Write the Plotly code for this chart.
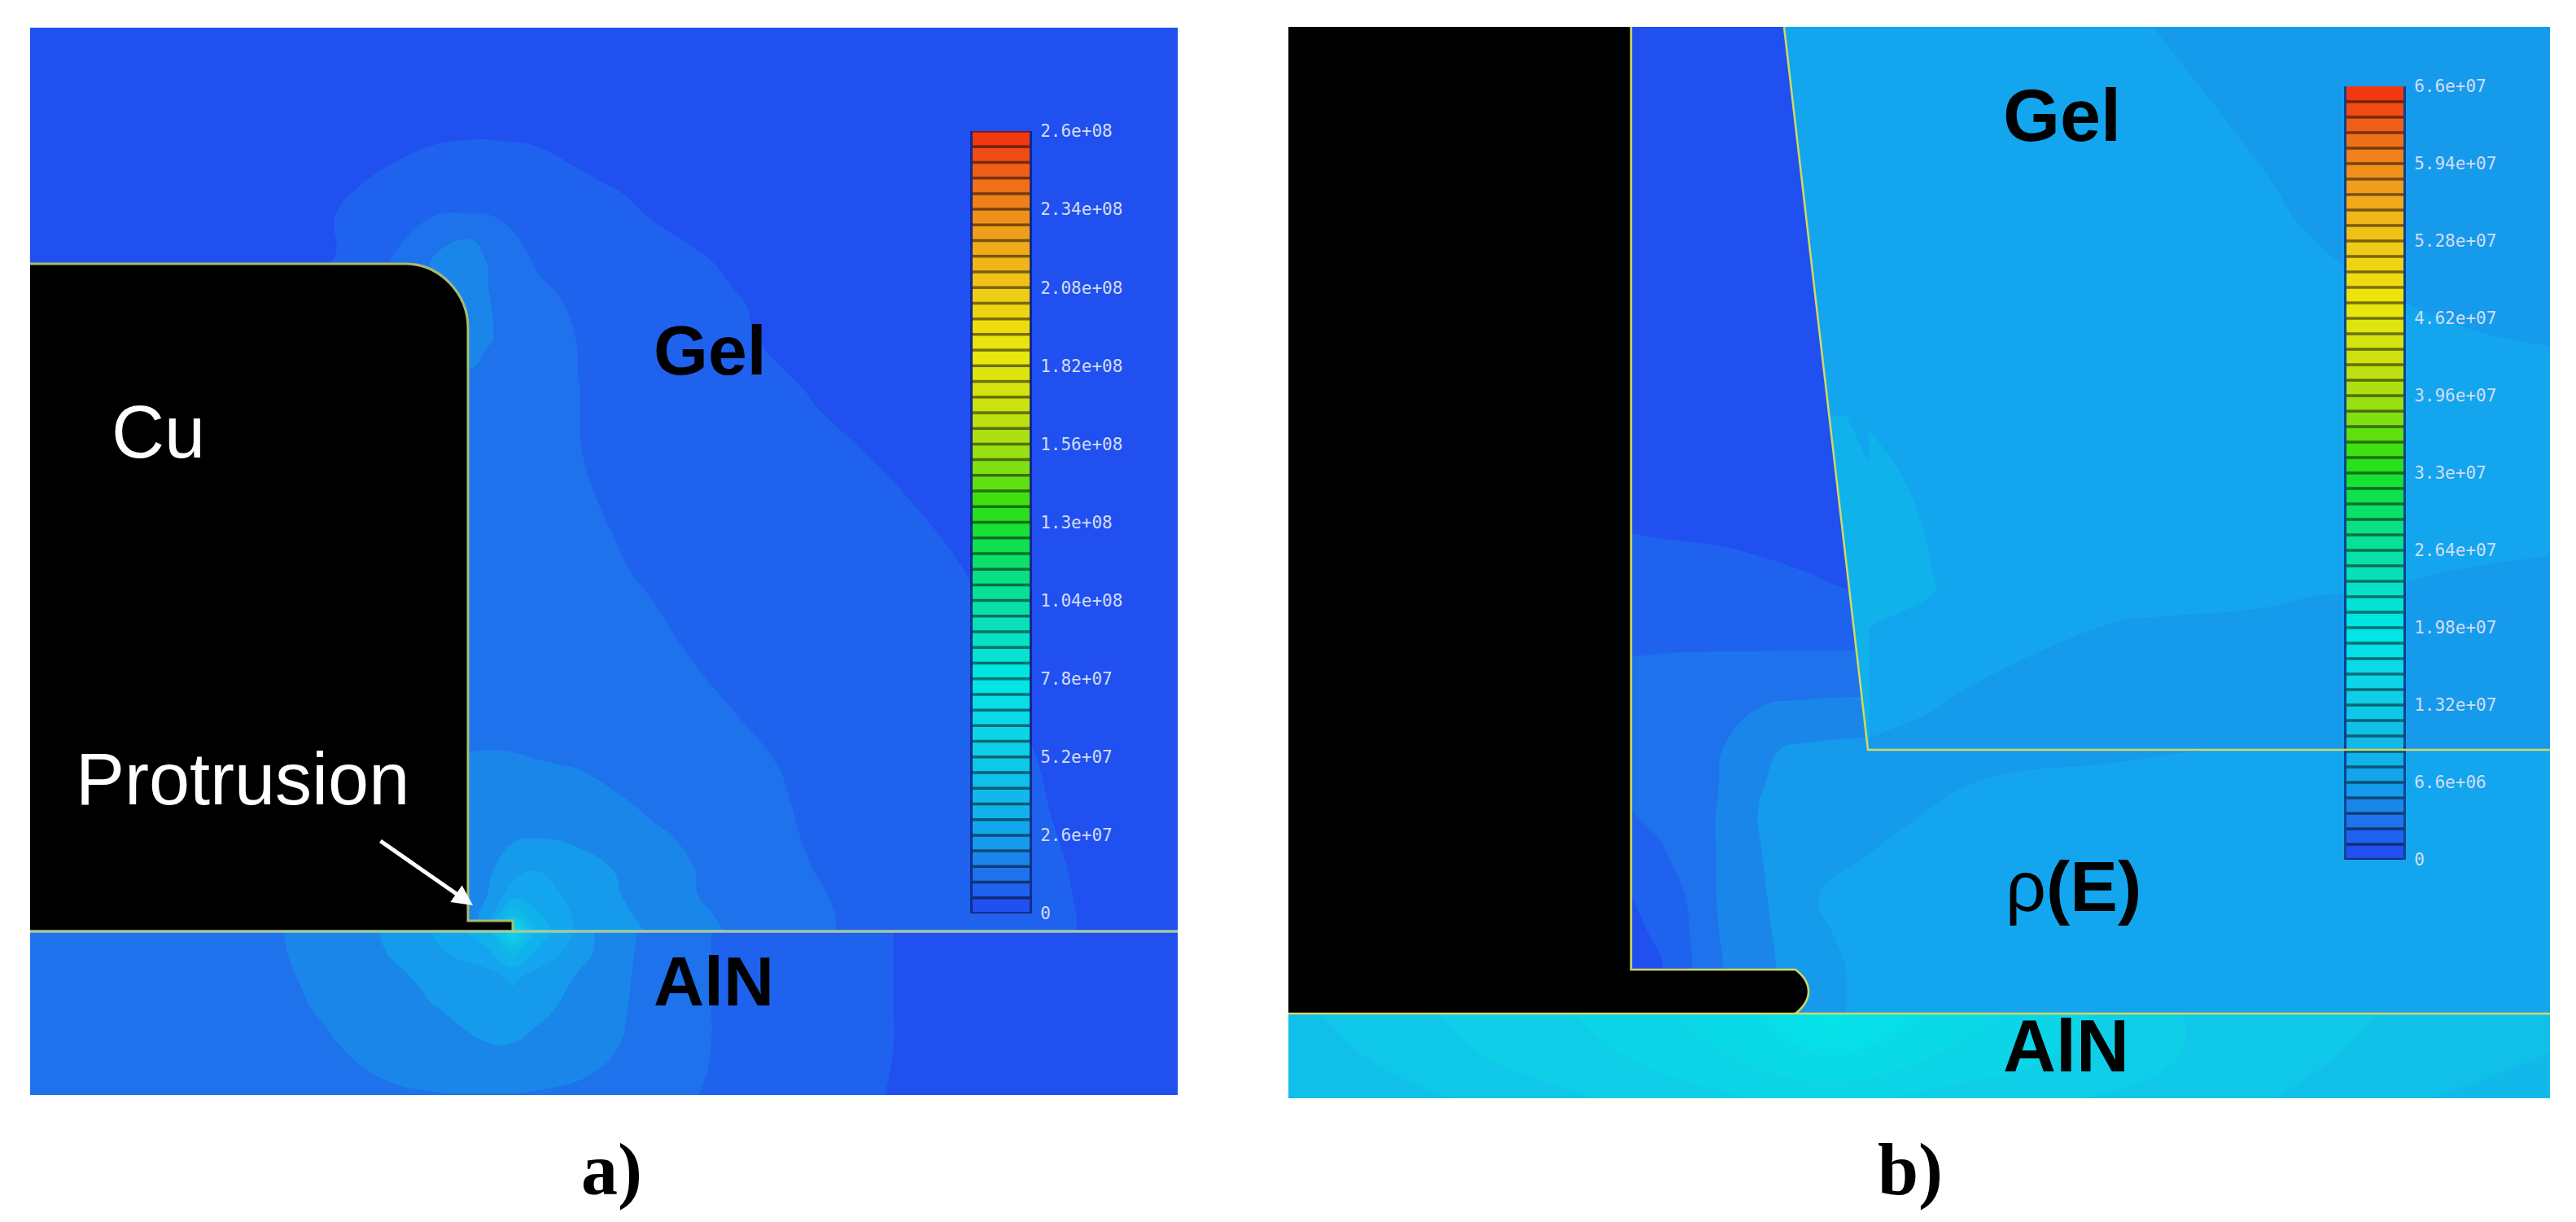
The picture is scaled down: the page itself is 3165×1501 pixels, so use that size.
import plotly.graph_objects as go

W, H = 3165, 1501

# field values, in units of 1e6
a_max, a_step = 260, 5.2
b_max, b_step = 66, 1.32

a_gel_x = [37, 300, 408, 445, 480, 530, 577, 600, 630, 660, 710, 760, 800, 850, 900, 1000, 1100, 1200, 1300, 1447]
a_gel_y = [34, 130, 173, 226, 262, 321, 370, 420, 480, 560, 704, 880, 940, 990, 1030, 1070, 1100, 1125, 1143]
a_gel_z = [
    [2, 2, 2, 2, 2, 2, 2, 2, 2, 2, 2, 2, 2, 2, 2, 2, 2, 2, 2, 2],
    [2, 2, 2.5, 3, 3.4, 3.8, 4, 4, 3.9, 3.7, 3.3, 3, 2.7, 2.4, 2, 2, 2, 2, 2, 2],
    [2, 2.5, 3, 3.6, 4.2, 5, 5.25, 5.25, 5.15, 5, 4.5, 3.9, 3.5, 3, 2.6, 2.2, 2, 2, 2, 2],
    [2, 3, 4.6, 5.2, 6, 6.8, 7.2, 7.1, 6.9, 6.5, 5.6, 5, 4.6, 4, 3.4, 2.6, 2, 2, 2, 2],
    [3, 4, 5, 6.5, 8, 9.9, 10.5, 10.3, 9.6, 8.9, 7.5, 5.9, 5, 4.3, 3.8, 3, 2.5, 2, 2, 2],
    [3, 4, 5.2, 8, 10.5, 15.8, 20, 15, 11.8, 10, 8.5, 7.2, 6.5, 5.6, 4.8, 3.5, 3, 2, 2, 2],
    [5, 5, 7, 9, 12, 15, 18, 15.9, 13, 11.5, 9.7, 8.6, 7.8, 6.5, 5.4, 4, 3.2, 2.5, 2, 2],
    [6, 6, 9, 11, 14, 16, 17, 15.8, 14.6, 13, 10.3, 9.2, 8.2, 7, 5.7, 4.2, 3.5, 3, 2, 2],
    [9, 9, 11, 12, 13, 14, 14.5, 13.5, 12.5, 11.5, 10.45, 9.5, 8.8, 7.8, 6.8, 5, 3.8, 3.2, 2.5, 2],
    [13, 13, 13, 13, 13, 13, 13, 12.8, 12.3, 11.5, 10.5, 9.7, 9, 8.2, 7.5, 6, 4.8, 3.5, 3, 2],
    [13, 13, 13, 13, 13, 13, 13, 13, 12.5, 12.2, 11.5, 10.6, 10.1, 9.3, 8.5, 7.5, 6.5, 5, 3.5, 2.5],
    [14, 14, 14, 14, 14, 14, 14, 14, 14, 13.5, 13, 12.3, 11.8, 11.1, 10.5, 9, 7.5, 6, 4.5, 3],
    [16, 16, 16, 16, 16, 16, 16.2, 16.3, 16.2, 15.9, 15.4, 14.2, 13.5, 12.6, 11.5, 9.5, 8, 6.5, 4.8, 3],
    [17, 17, 17, 17, 17, 17, 17, 18, 18.5, 18.5, 17.5, 16.2, 15, 13.6, 12, 9.8, 8.1, 6.7, 5, 3],
    [18, 18, 18, 18, 18, 18, 18.5, 19.5, 20.3, 20.8, 20, 18, 16.4, 15, 12.5, 10, 8.2, 6.8, 5.2, 3],
    [17, 17, 17, 17, 17, 17, 18.5, 20, 24, 26, 23, 20.5, 17.8, 15.8, 13.3, 10.4, 8.4, 6.9, 5.4, 3],
    [16, 16, 16, 16, 17, 17, 18, 21, 29, 29, 24, 21, 19, 15.9, 14, 10.8, 8.5, 7, 5.5, 3],
    [16, 16, 16, 16, 17, 17, 18, 24, 42, 32, 25, 21.5, 20, 17, 14.5, 11, 8.7, 7.1, 5.6, 3],
    [16, 16, 16, 16, 17, 17, 17, 30, 70, 35, 25, 21.8, 20.5, 17.5, 15, 11, 8.8, 7.2, 5.6, 3],
]

a_aln_x = [37, 349, 400, 466, 530, 600, 630, 660, 730, 776, 874, 1000, 1098, 1200, 1447]
a_aln_y = [1145, 1170, 1200, 1240, 1281, 1320, 1345]
a_aln_z = [
    [12, 15.6, 17, 20.8, 26, 35, 60, 35, 20.8, 16, 10.4, 7, 5.2, 4, 3],
    [12, 15.5, 16.8, 20.2, 24.5, 30, 38, 30, 20.6, 15.8, 10.4, 7, 5.2, 4, 3],
    [12, 15.2, 16.5, 19, 22, 24, 27, 24, 19, 15.6, 10.4, 7, 5.2, 4, 3],
    [12, 14.8, 16, 18, 20.5, 22.5, 23.5, 22, 18, 15.3, 10.4, 7, 5.2, 4, 3],
    [12, 14, 15.2, 17, 19.5, 20.8, 20.8, 19.5, 17, 15, 10.4, 7, 5.2, 4, 3],
    [12, 13.5, 14.5, 15.7, 17, 17.8, 17.8, 17, 15.5, 13.5, 10.2, 6.9, 5.1, 4, 3],
    [12, 13, 14, 15, 15.3, 15.4, 15.4, 15.2, 14, 12.5, 10, 6.8, 5, 4, 3],
]

b_outer_x = [2004, 2040, 2070, 2110, 2160, 2220, 2295, 2430, 2600, 2900, 3133]
b_outer_y = [33, 655, 720, 800, 870, 921, 960, 1000, 1050, 1100, 1150, 1190, 1245]
b_outer_z = [
    [0.6, 0.6, 0.6, 0.6, 0.6, 0.6, 0.6, 0.6, 0.6, 0.6, 0.6],
    [1.32, 1.28, 1.25, 1.22, 1.15, 1.1, 1, 1, 1, 1, 1],
    [1.7, 1.7, 1.7, 1.65, 1.55, 1.4, 1.25, 1.3, 1.3, 1.3, 1.3],
    [2.6, 2.62, 2.63, 2.64, 2.64, 2.65, 2.66, 2.7, 2.7, 2.7, 2.7],
    [3, 3.1, 3.3, 3.6, 3.96, 4.2, 4.3, 4.5, 4.5, 4.5, 4.5],
    [2.9, 3.1, 3.4, 3.8, 5.1, 5.5, 5.7, 6, 6.4, 6.9, 7],
    [2.8, 3, 3.3, 3.9, 5.2, 5.7, 6, 6.6, 6.9, 7.1, 7.3],
    [2.6, 2.9, 3.3, 4, 5.3, 5.9, 6.3, 6.9, 7.1, 7.3, 7.4],
    [2, 2.5, 3, 4, 5.2, 6.1, 6.6, 7.1, 7.3, 7.5, 7.6],
    [1.3, 2, 2.64, 4, 5, 6.5, 7, 7.3, 7.5, 7.6, 7.6],
    [1, 1.5, 2.4, 3.9, 4.9, 6.2, 7.1, 7.4, 7.6, 7.6, 7.6],
    [0.9, 1.2, 2.3, 3.8, 4.9, 5.9, 7, 7.4, 7.6, 7.6, 7.6],
    [0.9, 1.2, 2.3, 3.8, 4.9, 5.9, 7, 7.4, 7.6, 7.6, 7.6],
]

b_inner_x = [2295, 2375, 2410, 2600, 2645, 2780, 2845, 3000, 3133]
b_inner_y = [33, 207, 297, 510, 600, 724, 764, 849, 921]
b_inner_z = [
    [7.4, 7.2, 7.2, 6.8, 6.6, 6.2, 6, 5.8, 5.6],
    [7.6, 7.3, 7.3, 7.1, 7, 6.6, 6.3, 6, 5.8],
    [7.7, 7.4, 7.4, 7.2, 7.1, 6.9, 6.6, 6.2, 6],
    [7.85, 7.6, 7.4, 7.3, 7.3, 7.2, 7.2, 7.1, 7],
    [8.2, 7.75, 7.6, 7.4, 7.3, 7.2, 7.2, 7.1, 7],
    [8.4, 7.95, 7.7, 7.3, 7.2, 7, 6.7, 6.5, 6.4],
    [8, 7.5, 7.3, 6.6, 6.5, 6.3, 6.2, 6.1, 6],
    [7, 6.75, 6.6, 6.2, 6.1, 6, 6, 6, 6],
    [6.5, 6.3, 6.2, 6, 6, 6, 6, 6, 6],
]

b_aln_x = [1583, 1800, 2000, 2150, 2250, 2400, 2700, 3000, 3133]
b_aln_y = [1246, 1300, 1349]
b_aln_z = [
    [11.5, 13.5, 15, 17, 19, 16.5, 13, 11.5, 11],
    [11, 13, 14.5, 16, 17, 15.5, 13, 11, 10.5],
    [10.5, 12, 13.5, 14.5, 15, 14, 12.5, 10.5, 10],
]

a_tick_vals = [0, 26, 52, 78, 104, 130, 156, 182, 208, 234, 260]
a_tick_text = ["0", "2.6e+07", "5.2e+07", "7.8e+07", "1.04e+08", "1.3e+08",
               "1.56e+08", "1.82e+08", "2.08e+08", "2.34e+08", "2.6e+08"]
b_tick_vals = [0, 6.6, 13.2, 19.8, 26.4, 33, 39.6, 46.2, 52.8, 59.4, 66]
b_tick_text = ["0", "6.6e+06", "1.32e+07", "1.98e+07", "2.64e+07", "3.3e+07",
               "3.96e+07", "4.62e+07", "5.28e+07", "5.94e+07", "6.6e+07"]

# a band k is painted with the colour at (k + 0.5) / 50
scale = [
    [0, "#2050f0"], [0.01, "#2050f0"], [0.03, "#1f62ee"], [0.05, "#1e72ec"],
    [0.07, "#1a86ea"], [0.09, "#169aec"], [0.11, "#13a6ee"], [0.13, "#10b2ec"],
    [0.18, "#10c4e8"], [0.24, "#0cd8e8"], [0.30, "#00e6e6"], [0.36, "#08e0c0"],
    [0.42, "#08e090"], [0.48, "#10e040"], [0.52, "#30e010"], [0.58, "#90e010"],
    [0.64, "#c8e010"], [0.72, "#ece80c"], [0.80, "#f0c818"], [0.88, "#f0981c"],
    [0.94, "#f06818"], [1, "#f03010"],
]
K5, K6 = "#13a6ee", "#10b2ec"
EDGE = "#d4d860"
BAR_EDGE = "rgba(8,20,90,0.65)"
SANS = "Liberation Sans"


def field(x, y, z, vmax, step, xaxis, yaxis):
    return go.Contour(
        x=x, y=y, z=z, xaxis=xaxis, yaxis=yaxis,
        zmin=0, zmax=vmax, colorscale=scale, showscale=False,
        autocontour=False, hoverinfo="skip",
        contours=dict(start=0, end=vmax, size=step, coloring="fill", showlines=False),
        line=dict(width=0, smoothing=1.3),
    )


def bar(vmax, step, xaxis, yaxis):
    return go.Contour(
        x=[0, 1], y=[0, vmax], z=[[0, 0], [vmax, vmax]], xaxis=xaxis, yaxis=yaxis,
        zmin=0, zmax=vmax, colorscale=scale, showscale=False,
        autocontour=False, hoverinfo="skip",
        contours=dict(start=0, end=vmax, size=step, coloring="fill", showlines=True),
        line=dict(width=3.5, color="rgba(0,0,0,0.5)", smoothing=0),
    )


def xdom(left, right):
    return [left / W, right / W]


def ydom(top, bottom):
    return [1 - bottom / H, 1 - top / H]


fig = go.Figure()
fig.add_trace(field(a_gel_x, a_gel_y, a_gel_z, a_max, a_step, "x", "y"))
fig.add_trace(field(a_aln_x, a_aln_y, a_aln_z, a_max, a_step, "x", "y"))
fig.add_trace(field(b_outer_x, b_outer_y, b_outer_z, b_max, b_step, "x2", "y2"))
fig.add_trace(field(b_inner_x, b_inner_y, b_inner_z, b_max, b_step, "x2", "y2"))
fig.add_trace(field(b_aln_x, b_aln_y, b_aln_z, b_max, b_step, "x2", "y2"))
fig.add_trace(bar(a_max, a_step, "x3", "y3"))
fig.add_trace(bar(b_max, b_step, "x4", "y4"))

hidden = dict(visible=False, fixedrange=True, automargin=False)
tick_style = dict(
    side="right", showgrid=False, zeroline=False, showline=True,
    linecolor=BAR_EDGE, linewidth=3, mirror=True, automargin=False,
    ticks="outside", ticklen=6, tickcolor="rgba(0,0,0,0)",
    tickfont=dict(family="DejaVu Sans Mono", size=21, color="#d2ddf6"),
)

fig.update_layout(
    width=W, height=H, autosize=False,
    margin=dict(l=0, r=0, t=0, b=0),
    paper_bgcolor="white", plot_bgcolor="rgba(0,0,0,0)",
    showlegend=False,
    xaxis=dict(domain=xdom(37, 1447), range=[37, 1447], **hidden),
    yaxis=dict(domain=ydom(34, 1345), range=[1345, 34], **hidden),
    xaxis2=dict(domain=xdom(1583, 3133), range=[1583, 3133], **hidden),
    yaxis2=dict(domain=ydom(33, 1349), range=[1349, 33], **hidden),
    xaxis3=dict(domain=xdom(1195, 1265), range=[0, 1], **hidden),
    yaxis3=dict(domain=ydom(161, 1122), range=[0, a_max], anchor="x3",
                tickvals=a_tick_vals, ticktext=a_tick_text, **tick_style),
    xaxis4=dict(domain=xdom(2883, 2953), range=[0, 1], **hidden),
    yaxis4=dict(domain=ydom(106, 1056), range=[0, b_max], anchor="x4",
                tickvals=b_tick_vals, ticktext=b_tick_text, **tick_style),
)

shapes = [
    # panel a: copper with the protrusion
    dict(type="path", xref="x", yref="y", fillcolor="black", line_width=0,
         path="M37,324 L498,324 C540,324 575,360 575,403 L575,1131 L630,1131 L630,1143 L37,1143 Z"),
    dict(type="path", xref="x", yref="y", line=dict(color="#a8bc70", width=3),
         path="M37,324 L498,324 C540,324 575,360 575,403 L575,1131 L630,1131 L630,1143"),
    dict(type="line", xref="x", yref="y", x0=37, x1=1447, y0=1144, y1=1144,
         line=dict(color="#a6c8a0", width=3.5)),
    # panel b: wedge edge of the inner gel, then copper and outlines
    dict(type="path", xref="x2", yref="y2", fillcolor=K5, line_width=0,
         path="M2192,33 L2296,33 L2296,921 L2295,921 Z"),
    dict(type="path", xref="x2", yref="y2", fillcolor=K6, line_width=0,
         path="M2247,511 L2269,511 L2296,570 L2296,921 L2295,921 Z"),
    dict(type="path", xref="x2", yref="y2", fillcolor="black", line_width=0,
         path="M1583,33 L2004,33 L2004,1191 L2206,1191 Q2222,1203 2222,1218 Q2222,1232 2206,1245 L1583,1245 Z"),
    dict(type="path", xref="x2", yref="y2", line=dict(color=EDGE, width=2.5),
         path="M2004,33 L2004,1191 L2206,1191 Q2222,1203 2222,1218 Q2222,1232 2206,1245"),
    dict(type="line", xref="x2", yref="y2", x0=1583, x1=3133, y0=1245, y1=1245,
         line=dict(color=EDGE, width=2.5)),
    dict(type="path", xref="x2", yref="y2", line=dict(color=EDGE, width=2.5),
         path="M2192,33 L2295,921 L3133,921"),
]
fig.update_layout(shapes=shapes)


def label(text, x, y, ref, color="black", size=86, family=SANS):
    fig.add_annotation(
        text=text, x=x, y=y, xref=ref[0], yref=ref[1], showarrow=False,
        xanchor="center", yanchor="middle",
        font=dict(family=family, size=size, color=color),
    )


label("<b>Gel</b>", 872, 430, ("x", "y"))
label("Cu", 194, 531, ("x", "y"), color="white", size=90)
label("Protrusion", 298, 957, ("x", "y"), color="white", size=90)
label("<b>AlN</b>", 877, 1205, ("x", "y"))
label("<b>Gel</b>", 2533, 142, ("x2", "y2"), size=90)
label("ρ<b>(E)</b>", 2547, 1088, ("x2", "y2"), size=88)
label("<b>AlN</b>", 2538, 1285, ("x2", "y2"), size=90)
label("<b>a)</b>", 751 / W, 1 - 1437 / H, ("paper", "paper"), size=90, family="Liberation Serif")
label("<b>b)</b>", 2347 / W, 1 - 1437 / H, ("paper", "paper"), size=90, family="Liberation Serif")

fig.add_annotation(
    x=581, y=1112, ax=466, ay=1032, xref="x", yref="y", axref="x", ayref="y",
    text="", showarrow=True, arrowhead=2, arrowsize=1, arrowwidth=5, arrowcolor="white",
)

fig.write_html("out.html", config=dict(displayModeBar=False),
               post_script="document.body.style.margin='0';")
